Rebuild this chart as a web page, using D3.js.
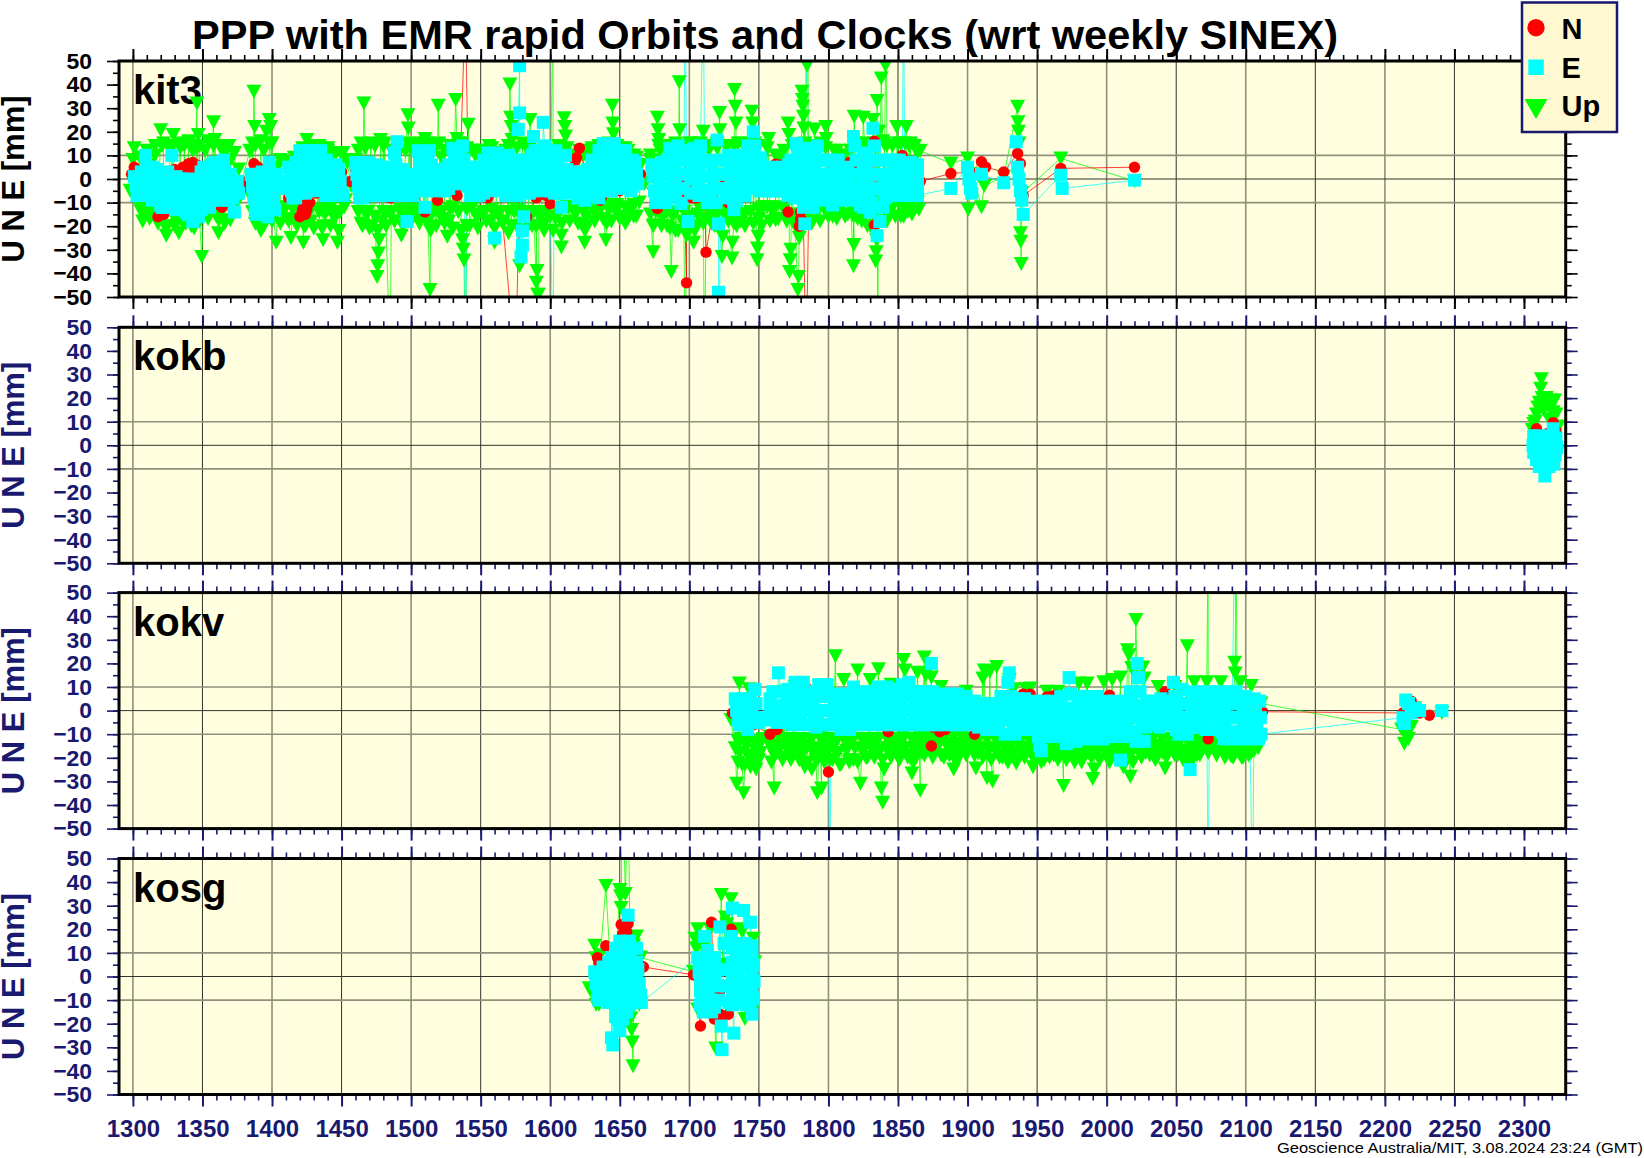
<!DOCTYPE html>
<html><head><meta charset="utf-8">
<script src="https://cdn.jsdelivr.net/npm/d3@7/dist/d3.min.js"></script>
<style>html,body{margin:0;padding:0;background:#fff}svg{display:block}text{font-family:"Liberation Sans",Arial,sans-serif}</style>
</head><body><svg id="c" width="1644" height="1158"></svg>
<script>
const titleText="PPP with EMR rapid Orbits and Clocks (wrt weekly SINEX)";
const footerText="Geoscience Australia/MIT, 3.08.2024 23:24 (GMT)";
const yAxisTitle="U N E [mm]";
const stations=["kit3","kokb","kokv","kosg"];
const legendLabels=["N","E","Up"];
const xMajorTicks=[1300,1350,1400,1450,1500,1550,1600,1650,1700,1750,1800,1850,1900,1950,2000,2050,2100,2150,2200,2250,2300];
const yMajorTicks=[-50,-40,-30,-20,-10,0,10,20,30,40,50];

// kit3
const kit3North=[[1299,2],[1301,5],[1303,0],[1318,-16],[1322,-15],[1330,4],[1336,5],[1340,6.5],[1343,7],[1346,6],[1348,3],[1356,-9],[1361,-10.5],[1364,-12],[1372,-3],[1378,-4],[1382,-1],[1387,6.5],[1390,5],[1400,2],[1412,-8],[1422,-13],[1424,-15],[1427,-10],[1432,-6],[1440,-4],[1450,3],[1456,-1],[1460,4],[1470,5],[1485,-8],[1500,1],[1510,-14],[1519,-9],[1530,2],[1532,-4],[1533,-7],[1535,-1],[1539,75],[1541,3],[1555,-8],[1560,7],[1562,8],[1575,-80],[1578,-4],[1583,-16],[1590,-8],[1597,-7],[1600,-10.5],[1612,-4],[1618,8],[1621,13],[1628,-3],[1635,-2],[1637,-7.5],[1640,-4],[1650,-5],[1659,-4.7],[1665,2],[1677,-12.5],[1680,-5],[1689,-3],[1692,-6],[1698,-44],[1701,-3],[1705,-8],[1711,-7.5],[1712,-31],[1718,-10],[1724,-3],[1728,-10],[1742,-4],[1762,6.3],[1766,6],[1771,-14],[1779,-20],[1782,-18],[1784,-80],[1786,-5],[1803,-6],[1815,7],[1820,5],[1825,4],[1833,16],[1833,-19.6],[1835,2],[1845,8],[1853,10],[1860,3],[1866,-1],[1888,2.3],[1902,3],[1910,7.3],[1913,5],[1926,3],[1936,10.8],[1938,6.6],[1940,-7],[1967,4.5],[2020,5]];
const kit3NorthMore=[[1338,3],[1341,2],[1344,3],[1342,5],[1358,-11],[1420,-16],[1423,-11],[1425,-13],[1534,-3],[1533,-1],[1632,-5],[1634,-8],[1636,-9],[1638,-6],[1640,-2],[1696,0],[1698,-3],[1699,-6],[1700,-2],[1702,-8],[1619,9],[1557,-6],[1780,-17],[1780,-14],[1827,9],[1830,7],[1819,8]];
const kit3East=[[1301,1],[1302,-3],[1303,-7],[1309,10],[1310,5],[1311,0],[1312,-5],[1317,4],[1318,-1],[1319,-6],[1320,-11],[1321,-12],[1325,3],[1326,-2],[1327,-7],[1328,10],[1329,-12],[1335,0],[1336,-5],[1337,-10],[1338,-14],[1343,-18],[1344,-2],[1345,-7],[1346,-12],[1347,-16],[1351,5],[1352,0],[1353,-5],[1354,-10],[1355,-12],[1359,7],[1360,2],[1361,-3],[1362,-8],[1365,8],[1366,3],[1367,-2],[1368,-7],[1369,-9],[1370,2],[1371,-3],[1372,-8],[1373,-14],[1375,-1],[1376,-6],
[1385,2],[1386,-3],[1387,-8],[1388,-13],[1389,-15],[1393,3],[1394,-2],[1395,-7],[1396,-12],[1397,-16],[1398,7],[1399,2],[1400,-3],[1401,-8],[1402,-13],[1405,-1],[1407,-3],[1412,5],[1413,0],[1414,-5],[1415,-8],[1420,12],[1421,7],[1422,2],[1423,-3],[1424,-6],[1428,12],[1429,7],[1430,2],[1431,-3],[1432,-5],[1435,12],[1436,6],[1437,0],[1441,6],[1442,1],[1443,-4],[1444,-7],[1448,4],[1449,-1],[1450,-6],[1451,-7],
[1460,7],[1461,2],[1462,-3],[1463,-8],[1469,7],[1470,2],[1471,-3],[1472,-7],[1478,5],[1479,0],[1480,-5],[1481,-7],[1488,11],[1489,6],[1490,15.8],[1491,1],[1492,-4],[1493,-7],[1496,2],[1497,-18],[1498,-3],[1499,-7],[1505,12],[1506,7],[1507,2],[1508,-3],[1509,-5],[1510,-12],[1513,12],[1514,6],[1515,1],[1516,-4],[1522,4],[1523,-1],[1524,-5],[1530,13],[1531,8],[1532,3],[1533,-2],[1537,14],[1538,8],[1539,-80],[1540,2],[1541,-3],[1546,5],[1547,0],[1548,-5],[1549,-7],[1555,11],[1556,6],[1557,1],[1558,-4],[1560,-25],[1562,11],[1563,6],[1564,1],[1565,-4],[1570,10],[1571,5],[1572,0],[1573,-5],[1574,-7],[1577,21],[1578,48],[1578,28],[1579,-33],[1580,-28],[1580,-22],[1581,-16],[1582,8],[1583,3],[1584,-2],[1585,-6],[1588,18],[1589,12],[1590,7],[1591,2],[1592,-4],[1595,24],[1596,14],[1597,9],[1598,3],[1599,-3],[1600,-5],[1602,-80],[1604,12],[1605,6],[1606,0],[1607,-6],[1608,-12],[1609,-5],[1611,10],[1612,4],[1613,-2],[1618,2],[1619,-3],[1620,-8],[1623,3],[1624,-3],[1625,-9],
[1630,8],[1631,3],[1632,-2],[1633,-7],[1638,15],[1639,10],[1640,5],[1641,0],[1642,-5],[1646,15],[1647,10],[1648,5],[1649,0],[1650,-4],[1654,12],[1655,7],[1656,2],[1657,-2],[1658,-5],[1661,7],[1662,2],[1663,-2],
[1673,6],[1674,1],[1675,-5],[1676,-10],[1680,7],[1681,2],[1682,-4],[1683,-10],[1686,13],[1687,8],[1688,3],[1689,-3],[1692,14],[1693,8],[1694,-10.4],[1695,2],[1696,-4],[1697,80],[1698,9],[1699,-18],[1700,3],[1703,13],[1704,7],[1705,1],[1706,-4],[1708,14],[1710,80],[1711,7],[1712,-6],[1713,-10],[1716,8],[1717,2],[1718,-4],[1719,-10],[1720,16.5],[1721,-19],[1721,-48],[1721,-80],[1723,8],[1724,2],[1725,-4],[1728,10],[1729,4],[1730,-2],[1731,-8],[1732,-13],[1735,10],[1736,4],[1737,-2],[1738,-7],[1742,14],[1743,8],[1744,2],[1745,-4],[1746,20],[1747,14],[1748,8],[1749,2],[1750,-4],[1753,5],[1754,0],[1755,-5],[1760,5],[1761,0],[1762,-5],[1767,5],[1768,0],[1769,-5],
[1773,8],[1774,2],[1775,-4],[1776,-8],[1777,15],[1778,10],[1779,4],[1780,-2],[1781,-8],[1783,-19],[1784,80],[1785,13],[1786,8],[1787,2],[1788,-4],[1789,-12],[1792,14],[1793,8],[1794,2],[1795,-4],[1796,-8],[1800,8],[1801,2],[1802,-3],[1803,-11],[1807,8],[1808,2],[1809,-4],[1810,-9],[1814,4],[1815,0],[1816,-5],[1817,-9],[1818,18],[1819,14],[1820,8],[1821,2],[1822,-4],[1823,-11],[1826,11],[1827,5],[1828,-1],[1829,-7],[1830,-14],[1832,21.5],[1833,14],[1834,8],[1835,-24],[1836,2],[1837,-18],[1838,-4],[1839,-12],[1843,8],[1844,2],[1845,-3],[1846,-7],[1851,8],[1852,3],[1853,-2],[1854,80],[1855,-6],[1859,7],[1860,2],[1861,-3],[1862,-7],
[1888,-4],[1900,5],[1901,0],[1902,-4],[1903,-6],[1910,2],[1926,-1.6],[1935,15.8],[1936,5],[1937,0],[1938,-5],[1939,-9],[1940,-15],[1967,1.6],[1968,-4],[2020,-0.5]];
const kit3EastMore=[[1306,3],[1306,-2],[1306,-7],[1314,5],[1314,0],[1314,-5],[1314,-9],[1322,2],[1322,-3],[1322,-8],[1322,-12],[1331,1],[1331,-4],[1331,-9],[1331,-13],[1340,0],[1340,-5],[1340,-10],[1340,-15],[1349,3],[1349,-2],[1349,-8],[1349,-13],[1357,6],[1357,1],[1357,-4],[1357,-9],[1363,5],[1363,0],[1363,-5],[1363,-9],[1391,2],[1391,-3],[1391,-8],[1391,-13],[1403,2],[1403,-2],[1403,-4],[1409,-1],[1409,-4],[1417,7],[1417,2],[1417,-3],[1417,-8],[1426,12],[1426,7],[1426,2],[1426,-3],[1433,10],[1433,4],[1433,-1],[1439,8],[1439,3],[1439,-2],[1439,-7],[1446,6],[1446,1],[1446,-4],[1446,-7],
[1465,6],[1465,1],[1465,-4],[1465,-8],[1475,6],[1475,1],[1475,-4],[1475,-7],[1484,5],[1484,0],[1484,-5],[1484,-7],[1494,4],[1494,-1],[1494,-6],[1501,2],[1501,-3],[1501,-7],[1511,10],[1511,4],[1511,-1],[1511,-5],[1519,4],[1519,-1],[1519,-5],[1527,6],[1527,1],[1527,-4],[1535,12],[1535,7],[1535,2],[1535,-2],[1543,5],[1543,0],[1543,-5],[1543,-7],[1552,8],[1552,3],[1552,-2],[1552,-6],[1559,9],[1559,4],[1559,-1],[1559,-5],[1568,8],[1568,3],[1568,-2],[1568,-7],[1576,8],[1576,3],[1576,-2],[1576,-7],[1587,10],[1587,4],[1587,-1],[1587,-5],[1594,12],[1594,6],[1594,0],[1594,-5],[1603,10],[1603,4],[1603,-2],[1603,-6],[1615,3],[1615,-2],[1615,-6],[1627,4],[1627,-2],[1627,-7],[1635,12],[1635,7],[1635,2],[1635,-3],[1635,-8],[1644,14],[1644,9],[1644,4],[1644,-1],[1644,-5],[1652,12],[1652,7],[1652,2],[1652,-2],[1659,8],[1659,3],[1659,-1],[1659,-3],
[1678,6],[1678,1],[1678,-4],[1678,-9],[1684,8],[1684,2],[1684,-4],[1684,-9],[1690,10],[1690,4],[1690,-2],[1690,-7],[1701,12],[1701,6],[1701,0],[1701,-6],[1707,10],[1707,4],[1707,-2],[1707,-7],[1715,7],[1715,1],[1715,-5],[1715,-10],[1727,8],[1727,2],[1727,-4],[1727,-8],[1734,8],[1734,2],[1734,-4],[1734,-9],[1740,10],[1740,4],[1740,-2],[1740,-7],[1751,9],[1751,4],[1751,-1],[1751,-5],[1758,4],[1758,-1],[1758,-5],[1765,4],[1765,-1],[1765,-5],[1771,6],[1771,1],[1771,-4],[1771,-7],[1782,12],[1782,6],[1782,0],[1782,-6],[1782,-12],[1790,10],[1790,4],[1790,-2],[1790,-8],[1798,8],[1798,2],[1798,-3],[1798,-9],[1805,6],[1805,1],[1805,-4],[1805,-8],[1812,5],[1812,0],[1812,-5],[1812,-8],[1825,10],[1825,4],[1825,-2],[1825,-8],[1825,-12],[1831,8],[1831,2],[1831,-4],[1831,-10],[1841,8],[1841,2],[1841,-3],[1841,-8],[1848,8],[1848,3],[1848,-2],[1848,-7],[1857,7],[1857,2],[1857,-3],[1857,-7],[1864,6],[1864,1],[1864,-4],[1864,-7]];
const kit3Up=[[1298,-5],[1300,8],[1301,13],[1303,-10],[1305,9],[1306,-14],[1307,-18],[1309,-13],[1312,6],[1314,-15],[1316,10],[1318,-17],[1320,20.7],[1321,14],[1323,-20],[1324,-24],[1327,12],[1329,18.6],[1331,-18],[1333,-23],[1334,15],[1337,14],[1338,-19],[1340,15],[1342,-16],[1343,12],[1344,-21],[1346,32],[1347,18.6],[1348,14],[1349.5,-33],[1351,-12],[1354,16],[1355,-11],[1358,24],[1359,16.5],[1360,-13],[1361.5,-23],[1362,-17.5],[1365,14],[1367,12],[1369,14],[1370,-17.5],[1371,-12],[1373,11],[1375,-10],[1376,4],[1378,-2],
[1384,12],[1385,-8],[1387,37],[1387.5,22],[1388,14],[1389,-13],[1392,-22],[1393,-17],[1394,12],[1396,20],[1398,25],[1399,22],[1400,15],[1401,-16],[1403,-27],[1404,-13],[1406,8],[1408,-14],[1410,6.6],[1411,-17],[1413.6,-25],[1415,-13],[1417,6],[1418,-17],[1420,8],[1422.5,-27],[1423,-20],[1425,16.5],[1426,-12],[1428,-18],[1431,13],[1433,-13],[1435,13],[1436.7,-26],[1437,-20],[1438,-15],[1440,12],[1442,-12],[1444,11],[1445,-17],[1447,-27],[1448,-22],[1449,-14],[1451,11],[1453,-9],[1454,7],[1457,-3],
[1460,8],[1462,-14],[1464,15],[1465,-20],[1466,32],[1467,13],[1469,-14],[1471,15],[1472,-20],[1474,14],[1475.5,-41.5],[1476,-37],[1476.5,-31.6],[1477,-26],[1478,16.5],[1479,-18],[1481,15],[1482,-14],[1485,-80],[1486,12],[1488,-18],[1490,10],[1493,-24],[1494,-16],[1496,12],[1497.7,27],[1498,21.4],[1499,14],[1501,-14],[1503,10],[1505,-17],[1507,15],[1509,-13],[1510,17],[1511,-18],[1512,15],[1513.6,-47],[1514,-22],[1516,14],[1517,-13],[1519.5,31],[1520,15],[1522,-17],[1524,12],[1526,-24.5],[1527,-18],[1529,14],[1530,-12],[1532,33.5],[1533,17],[1534,-14],[1536,15],[1537,-26],[1537.5,-30],[1538,-34.5],[1539,-80],[1540,-20],[1541,23],[1542,12],[1544,-12],[1546,10],[1548,-16],[1551,12],[1553,-14],[1556,14],[1557,-18],[1560,-27],[1561,-14],[1563,11],[1565,-18],[1568,12],[1570,-23],[1571,40],[1571.5,26],[1572,22],[1572.5,16.5],[1574,-14],[1576,-20],[1578,-37],[1580,15],[1582,-14],[1585.5,25],[1586,14],[1587,-20],[1590,-44],[1590.5,-39],[1591,-49],[1591.5,-49],[1592,-16],[1594,12],[1595.6,-22],[1597,-14],[1600,10],[1602,80],[1604,-17],[1606,14],[1608,-29],[1608.5,-19],[1610,25.7],[1610.5,22],[1611,18],[1613,-12],[1616,8],[1618,-15],[1621,12],[1623,-13],[1624.7,-27],[1625,-22],[1626,-16],[1629,12],
[1632,-14],[1635,14],[1637,-12],[1640,-26],[1640.5,-19],[1642,-13],[1644.7,31],[1645,23.5],[1645.5,19],[1647,-14],[1650,13],[1652,-16],[1654,-19],[1656,12],[1658,-13],[1660,-16],[1662,9],[1664,-10],[1665,6],[1668,-2],
[1672,8],[1674,-31],[1674.5,-19.6],[1676,-14],[1677,26],[1677.5,20.7],[1678,16.5],[1679,12],[1681,-16],[1684,-20],[1687,-39.4],[1688,-16],[1690,-22],[1692.7,41],[1693,20.7],[1695,-18],[1697,-80],[1698,-24],[1700,15],[1703,-27],[1704,-20],[1706,-15],[1708,15],[1710,20],[1711,-80],[1712,-17],[1714,12],[1716,-15],[1718,-20],[1720,15],[1721.7,28],[1722,20.7],[1723.5,-33],[1724,-24.5],[1725,-15],[1727,13],[1730.7,-33.7],[1731,-27],[1732,-19],[1732.5,37.7],[1733,30.6],[1733.5,23.5],[1735,15],[1737,-18],[1740,-15],[1742,13],[1745,28.5],[1745.5,23.5],[1747,15],[1748.7,-34.4],[1749,-29.5],[1749.5,-24.5],[1750,-17],[1753,-12],[1757,17],[1759,-13],[1762,-17.5],[1765,8],[1768,-13],[1771,23.5],[1771.5,18.6],[1772,-39.4],[1772.5,-34.4],[1773,-30],[1775,-16],[1778,-47],[1778.5,-41.5],[1779,-25],[1781,37],[1781.3,33.5],[1781.6,30.6],[1782,26.4],[1782.4,21.4],[1783,15],[1784.6,48],[1785,80],[1786,-16],[1790,21],[1792,-14],[1795,15],[1798,22],[1798.4,17],[1800,-13],[1803,-16],[1806,12],[1809,-12],[1812,10],[1814,-15],[1816,12],[1818,-37],[1818.3,-28],[1818.5,26.4],[1819,15],[1821,-17],[1825,26],[1826,15],[1828,-20],[1830,-14],[1832,25],[1833,15],[1834,-35],[1834.3,-31],[1834.6,-26],[1835,33],[1835.5,-80],[1836,20],[1838,42.6],[1839,16],[1841,48],[1841.5,80],[1842,14],[1844,-14],[1846,14],[1849,22],[1850,15],[1852,-16],[1855,15],[1856,22],[1857,-14],[1859,15],[1862,14],[1863,-12],[1866,12],
[1888,6.6],[1900,8.7],[1900.5,-13],[1904,2],[1910,-12],[1912,-3],[1926,1],[1936,30.6],[1936.3,24],[1936.6,20],[1937,15],[1938,-23],[1938.3,-26.6],[1938.6,-36],[1939,-6],[1967,8.7],[2020,-0.8]];
const kit3UpMore=[[1310,12],[1310,-13],[1312,-17],[1316,14],[1316,-14],[1318,-19],[1322,15],[1322,-15],[1324,-21],[1328,14],[1328,-14],[1330,-20],[1334,13],[1334,-13],[1336,-19],[1340,16],[1340,-15],[1342,-20],[1346,13],[1346,-13],[1348,-18],[1352,12],[1352,-12],[1354,-17],[1358,14],[1358,-12],[1360,-16],[1364,12],[1364,-13],[1366,-19],[1370,8],[1370,-13],
[1386,15],[1386,-14],[1388,-19],[1392,16],[1392,-15],[1394,-20],[1398,15],[1398,-14],[1400,-18],[1404,5],[1404,-13],[1406,-19],[1410,7],[1410,-12],[1412,-18],[1416,9],[1416,-11],[1418,-20],[1422,13],[1422,-13],[1424,-20],[1428,14],[1428,-13],[1430,-21],[1434,14],[1434,-14],[1436,-21],[1440,13],[1440,-13],[1442,-20],[1446,11],[1446,-14],[1448,-22],[1452,8],[1452,-12],
[1462,12],[1462,-14],[1464,-19],[1468,14],[1468,-15],[1470,-21],[1474,14],[1474,-16],[1476,-22],[1480,14],[1480,-14],[1482,-20],[1486,12],[1486,-14],[1488,-18],[1492,12],[1492,-13],[1494,-20],[1498,15],[1498,-13],[1500,-18],[1504,14],[1504,-13],[1506,-19],[1510,15],[1510,-13],[1512,-18],[1516,12],[1516,-14],[1518,-20],[1522,9],[1522,-14],[1524,-19],[1528,14],[1528,-13],[1530,-21],[1534,15],[1534,-14],[1536,-22],[1540,13],[1540,-13],[1542,-20],[1546,12],[1546,-15],[1548,-21],[1552,12],[1552,-14],[1554,-18],[1558,13],[1558,-13],[1560,-21],[1564,11],[1564,-14],[1566,-19],[1570,14],[1570,-14],[1572,-20],[1576,13],[1576,-13],[1578,-22],[1582,14],[1582,-15],[1584,-20],[1588,12],[1588,-14],[1590,-20],[1594,11],[1594,-15],[1596,-19],[1600,12],[1600,-16],[1602,-22],[1606,12],[1606,-14],[1608,-24],[1612,13],[1612,-12],[1614,-18],[1618,10],[1618,-14],[1620,-19],[1624,10],[1624,-14],[1626,-20],[1630,13],[1630,-12],[1632,-18],[1636,13],[1636,-12],[1638,-17],[1642,15],[1642,-11],[1644,-18],[1648,14],[1648,-11],[1650,-17],[1654,13],[1654,-12],[1656,-17],[1660,10],[1660,-11],[1662,-16],
[1672,10],[1672,-15],[1674,-20],[1678,14],[1678,-14],[1680,-20],[1684,14],[1684,-14],[1686,-21],[1690,15],[1690,-14],[1692,-22],[1696,14],[1696,-14],[1698,-20],[1702,15],[1702,-16],[1704,-22],[1708,13],[1708,-13],[1710,-19],[1714,14],[1714,-14],[1716,-19],[1720,13],[1720,-15],[1722,-20],[1726,14],[1726,-13],[1728,-18],[1732,14],[1732,-15],[1734,-20],[1738,15],[1738,-15],[1740,-20],[1744,13],[1744,-14],[1746,-19],[1750,14],[1750,-13],[1752,-20],[1756,13],[1756,-12],[1758,-18],[1762,10],[1762,-12],[1764,-17],[1768,12],[1768,-13],[1770,-18],[1774,14],[1774,-15],[1776,-20],[1780,14],[1780,-15],[1782,-20],[1786,14],[1786,-13],[1788,-19],[1792,12],[1792,-13],[1794,-18],[1798,13],[1798,-13],[1800,-16],[1804,12],[1804,-12],[1806,-17],[1810,10],[1810,-11],[1812,-16],[1816,12],[1816,-12],[1818,-16],[1822,14],[1822,-12],[1824,-18],[1828,14],[1828,-13],[1830,-20],[1834,14],[1834,-14],[1836,-19],[1840,15],[1840,-13],[1842,-18],[1846,14],[1846,-12],[1848,-16],[1852,15],[1852,-12],[1854,-16],[1858,14],[1858,-11],[1860,-15],[1864,11],[1864,-10],[1865,-13]];

// kokb
const kokbNorth=[[2309,7],[2312,3],[2317,5],[2321,9.6],[2323,6]];
const kokbNorthMore=[[2308,5],[2322,7]];
const kokbEast=[[2307,4],[2308,-1],[2309,-6],[2310,4],[2311,-9],[2312,-3],[2313,3],[2314,-8],[2315,-13],[2316,-2],[2317,4],[2318,-9],[2319,-4],[2320,1],[2321,7],[2321.5,-8],[2322,3],[2322.5,-4],[2323,3],[2323.5,-1]];
const kokbEastMore=[[2306.5,0],[2307,-3],[2313,-5],[2317,-3],[2320,-6]];
const kokbUp=[[2306,6.5],[2309,13],[2311,18],[2312,24],[2312.5,28],[2314,15],[2316,20],[2318,11],[2320,19],[2321,14],[2322,19],[2323,13],[2324,-3.4],[2324.5,8]];
const kokbUpMore=[[2308,10],[2310,16],[2313,20],[2315,17],[2317,17],[2319,16],[2323,6],[2307,9]];

// kokv
const kokvNorth=[[1731,-1],[1740,-5],[1746,-6],[1758,-10],[1770,-5],[1784,9.7],[1788,5],[1800,-26],[1810,-4],[1826,-3],[1842,-6],[1850,-3],[1874,-15],[1876,-7],[1880,-7],[1905,-10],[1920,-5],[1940,7],[1957,5.8],[1960,5],[2002,6.5],[2020,3],[2042,8],[2060,-4],[2073,-12],[2093,-10.4],[2102,3],[2112,-0.5],[2213,-1],[2219,4],[2221,1],[2225,-1],[2232,-2],[2241,0]];
const kokvNorthMore=[[1843,-9],[1842,-7],[1945,7],[1960,6],[1963,6.5],[1965,6],[1880,-9],[1884,-8],[1763,-8]];
const kokvEast=[[1733,5],[1734,0],[1735,-4],[1736,-6],[1739,5],[1740,0],[1741,-5],[1742,-8],[1744,5],[1745,0],[1746,-5],[1747,9],[1748,3],[1749,-3],[1750,-5],
[1760,8],[1761,2],[1762,-3],[1763,-5],[1764,16],[1766,8],[1767,2],[1768,-3],[1769,-5],[1771,9],[1772,3],[1773,-2],[1774,-6],[1776,12],[1777,6],[1778,0],[1779,-6],[1782,12],[1783,6],[1784,0],[1785,-6],[1788,8],[1789,2],[1790,-3],[1791,-7],[1793,11],[1794,6],[1795,0],[1796,-6],[1799,11],[1800,6],[1801,-80],[1802,0],[1803,-6],[1806,7],[1807,2],[1808,-3],[1809,-8],[1812,7],[1813,2],[1814,-3],[1815,-8],[1818,10],[1819,5],[1820,0],[1821,-6],[1824,8],[1825,3],[1826,-2],[1827,-6],[1830,8],[1831,3],[1832,-2],[1833,-6],[1836,10],[1837,5],[1838,0],[1839,-6],[1842,10],[1843,5],[1844,0],[1845,-6],[1847,9],[1848,3],[1849,-2],[1850,-6],[1853,11],[1854,6],[1855,0],[1856,-6],[1858,12],[1859,6],[1860,0],[1861,-6],[1864,8],[1865,3],[1866,-2],[1867,-6],[1870,8],[1871,3],[1872,-2],[1873,-6],[1874,20],[1875,8],[1876,3],[1877,-2],[1878,-6],
[1881,7],[1882,2],[1883,-3],[1884,-6],[1887,7],[1888,2],[1889,-3],[1890,-6],[1893,7],[1894,2],[1895,-3],[1896,-6],[1899,6],[1900,1],[1901,-3],[1902,-6],[1905,4],[1906,0],[1907,-4],[1908,-7],[1911,3],[1912,-1],[1913,-5],[1914,-8],[1917,3],[1918,-1],[1919,-5],[1920,-8],[1924,6],[1925,1],[1926,-4],[1927,-10],[1929,12],[1930,16],[1931,6],[1932,0],[1933,-6],[1934,-10],[1936,5],[1937,0],[1938,-4],[1939,-8],[1941,5],[1942,0],[1943,-4],[1944,-8],[1948,4],[1949,-1],[1950,-6],[1951,-11],[1952,-15],[1953,-17],[1955,4],[1956,-1],[1957,-6],[1958,-11],[1961,4],[1962,-1],[1963,-6],[1964,-11],[1967,6],[1968,1],[1969,-4],[1970,-9],[1971,-14],[1973,14],[1974,7],[1975,1],[1976,-4],[1977,-9],[1978,-13],[1981,6],[1982,1],[1983,-4],[1984,-9],[1985,-12],[1987,6],[1988,1],[1989,-4],[1990,-9],[1991,-12],[1993,6],[1994,1],[1995,-4],[1996,-9],[1997,-12],
[2000,4],[2001,-1],[2002,-6],[2003,-11],[2006,4],[2007,-1],[2008,-6],[2009,-11],[2010,-21],[2012,4],[2013,-1],[2014,-6],[2015,-11],[2017,8],[2018,3],[2019,-3],[2020,-9],[2021,-13],[2022,20],[2023,14],[2024,8],[2025,2],[2026,-4],[2027,-13],[2029,4],[2030,-1],[2031,-6],[2034,4],[2035,-1],[2036,-6],[2039,5],[2040,0],[2041,-6],[2044,4],[2045,-1],[2046,-6],[2048,12],[2049,6],[2050,0],[2051,-6],[2052,-10],[2054,9],[2055,3],[2056,-3],[2057,-8],[2058,-10],[2060,-25],[2062,8],[2063,3],[2064,-2],[2065,-7],[2068,8],[2069,3],[2070,-2],[2071,-8],[2073,-80],[2074,8],[2075,3],[2076,-2],[2077,-8],[2080,8],[2081,3],[2082,-3],[2083,-9],[2084,-12],[2086,8],[2087,3],[2088,-3],[2089,-9],[2090,-12],[2092,80],[2093,8],[2094,3],[2095,-3],[2096,-9],[2097,-12],[2100,6],[2101,0],[2102,-6],[2103,-12],[2105,-80],[2106,5],[2107,0],[2108,-6],[2109,-12],[2110,4],[2110.5,-3],[2111,-10],
[2213,-3],[2214,-5.5],[2215,4.5],[2217,3],[2219,-1],[2222,1],[2225,0],[2241,0]];
const kokvEastMore=[[1737,2],[1737,-2],[1743,3],[1743,-3],[1758,5],[1758,0],[1758,-4],[1770,5],[1770,0],[1770,-4],[1780,9],[1780,3],[1780,-3],[1792,6],[1792,0],[1792,-4],[1804,5],[1804,0],[1804,-5],[1816,5],[1816,0],[1816,-5],[1828,5],[1828,0],[1828,-4],[1840,7],[1840,2],[1840,-4],[1852,7],[1852,2],[1852,-3],[1862,8],[1862,3],[1862,-3],[1874,5],[1874,0],[1874,-4],[1886,4],[1886,0],[1886,-4],[1898,4],[1898,0],[1898,-4],[1910,2],[1910,-2],[1910,-6],[1922,3],[1922,-2],[1922,-6],[1935,3],[1935,-2],[1935,-7],[1946,2],[1946,-3],[1946,-8],[1959,2],[1959,-3],[1959,-9],[1966,3],[1966,-2],[1966,-7],[1980,3],[1980,-2],[1980,-7],[1992,3],[1992,-2],[1992,-7],[2004,2],[2004,-3],[2004,-9],[2016,2],[2016,-3],[2016,-9],[2028,2],[2028,-3],[2028,-7],[2038,2],[2038,-3],[2038,-7],[2050,4],[2050,-2],[2050,-8],[2061,5],[2061,0],[2061,-5],[2072,5],[2072,0],[2072,-5],[2085,5],[2085,0],[2085,-6],[2098,4],[2098,-2],[2098,-8],[2107,3],[2107,-2],[2107,-8]];
const kokvUp=[[1730,-4],[1733,-16],[1734,-31],[1735,-22],[1736,11.5],[1737,-12],[1739,-35],[1740,-23],[1741,-15],[1743,9],[1745,-20],[1748,-25],[1749,-15],[1751,-18],[1753,-12],
[1757,-14],[1759,-22],[1761,-33],[1762,-16],[1765,-15],[1767,-20],[1769,8],[1771,-14],[1773,-18],[1776,10],[1778,-14],[1780,-17],[1783,-24],[1785,-15],[1788,-25],[1789,-18],[1792,-35],[1793,-20],[1795,-33],[1796,-14],[1799,-17],[1801,-21],[1803,-14],[1805,23],[1806,-18],[1808,-23],[1811,13],[1813,-14],[1815,-22],[1818,-21],[1821,17],[1823,-31],[1824,-17],[1826,-14],[1828,-20],[1830,13],[1832,-13],[1834,-17],[1836,17.5],[1838,-33],[1839,-39],[1840,-25],[1842,-16],[1845,11],[1847,-13],[1850,-19.5],[1852,-14],[1854,21.4],[1855,17],[1857,-20],[1860,-26.6],[1861,-22],[1863,-14],[1864,16],[1866,-34],[1867,-18],[1869,22.5],[1870,15],[1872,-14],[1874,14],[1876,-17],[1878,-12],
[1881,10],[1883,-20],[1885,-14],[1888,-16],[1890,-25],[1892,-22],[1894,-14],[1896,-17],[1899,8],[1901,-14],[1904,-14],[1906,-24.5],[1908,-18],[1911,13.6],[1912,17],[1914,-28.7],[1916,16.5],[1918,-30],[1919,-16],[1921,18.5],[1922,-14],[1925,-20],[1928,-16],[1930,13],[1931,-19],[1933,9],[1935,-22.4],[1937,-14],[1940,-18],[1942,9],[1944,-16],[1945,9.4],[1947,-24],[1949,-19],[1952,-14],[1955,-21],[1957,8],[1959,-16],[1962,-19],[1965,8],[1967,-15],[1969,-32],[1971,-16],[1973,-19],[1975,-14],[1978,-17],[1980,11.5],[1982,-22],[1984,-16],[1986,11.5],[1988,-16],[1990,-29],[1991,-25],[1993,-15],[1996,-13],[1998,12],[2000,-17],[2002,-22],[2004,13],[2006,-16],[2008,-21],[2010,14],[2012,-24],[2014,-17],[2015,25.6],[2016,23.5],[2017,-28],[2018,18],[2019,-16],[2021,38.4],[2022,14],[2024,-15],[2026,18.3],[2027,13.6],[2028,-18],[2030,-14],[2033,-16],[2035,-21],[2037,10],[2040,-18],[2042,-24.5],[2044,-16],[2047,-13],[2049,10],[2051,-19],[2054,-17],[2056,-20],[2058,27.3],[2059,-24],[2061,-16],[2063,12],[2065,-19],[2067,-14],[2070,-13],[2072,12],[2073,80],[2074,-16],[2077,-14],[2080,-12],[2082,12],[2084,-18],[2086,-19],[2088,-15],[2090,-19.5],[2092,20.3],[2092.4,15.7],[2093,80],[2094,-15],[2096,12],[2098,-20],[2100,-16],[2104,10.4],[2106,-17],[2109,-16],[2111,3],
[2212,-8],[2214,-14],[2215,-10],[2217,-12],[2219,-7],[2221,1],[2241,-1]];
const kokvUpMore=[[1735,-13],[1736,-18],[1738,-23],[1741,-12],[1742,-19],[1744,-24],[1747,-13],[1748,-17],[1750,-21],[1758,-11],[1759,-15],[1761,-19],[1764,-11],[1765,-16],[1767,-21],[1770,-12],[1771,-17],[1773,-21],[1776,-12],[1777,-16],[1779,-21],[1782,-12],[1783,-17],[1785,-22],[1788,-12],[1789,-16],[1791,-21],[1794,-11],[1795,-17],[1797,-22],[1800,-12],[1801,-16],[1803,-21],[1806,-13],[1807,-18],[1809,-23],[1812,-13],[1813,-17],[1815,-21],[1818,-12],[1819,-16],[1821,-22],[1824,-12],[1825,-17],[1827,-20],[1830,-12],[1831,-16],[1833,-20],[1836,-12],[1837,-17],[1839,-21],[1842,-12],[1843,-16],[1845,-20],[1848,-12],[1849,-17],[1851,-21],[1854,-11],[1855,-16],[1857,-19],[1860,-12],[1861,-16],[1863,-20],[1866,-11],[1867,-15],[1869,-19],[1872,-11],[1873,-16],[1875,-20],[1878,-11],[1879,-15],[1881,-19],[1884,-11],[1885,-15],[1887,-19],[1890,-11],[1891,-16],[1893,-20],[1896,-11],[1897,-15],[1899,-19],[1902,-12],[1903,-16],[1905,-19],[1908,-12],[1909,-16],[1911,-20],[1914,-12],[1915,-17],[1917,-21],[1920,-12],[1921,-16],[1923,-20],[1926,-15],[1927,-19],[1929,-22],[1932,-14],[1933,-18],[1935,-21],[1938,-12],[1939,-17],[1941,-20],[1944,-12],[1945,-16],[1947,-20],[1950,-15],[1951,-19],[1953,-22],[1956,-13],[1957,-17],[1959,-20],[1962,-14],[1963,-18],[1965,-21],[1968,-14],[1969,-18],[1971,-21],[1974,-15],[1975,-19],[1977,-22],[1980,-15],[1981,-19],[1983,-20],[1986,-14],[1987,-18],[1989,-20],[1992,-14],[1993,-18],[1995,-21],[1998,-14],[1999,-18],[2001,-20],[2004,-13],[2005,-17],[2007,-20],[2010,-14],[2011,-18],[2013,-20],[2016,-15],[2017,-19],[2019,-22],[2022,-14],[2023,-17],[2025,-20],[2028,-11],[2029,-15],[2031,-19],[2034,-11],[2035,-15],[2037,-19],[2040,-12],[2041,-16],[2043,-20],[2046,-12],[2047,-15],[2049,-19],[2052,-14],[2053,-18],[2055,-21],[2058,-13],[2059,-17],[2061,-21],[2064,-13],[2065,-16],[2067,-19],[2070,-12],[2071,-16],[2073,-18],[2076,-12],[2077,-16],[2079,-19],[2082,-14],[2083,-17],[2085,-20],[2088,-16],[2089,-19],[2091,-20],[2094,-16],[2095,-18],[2097,-20],[2100,-17],[2102,-19],[2104,-18],[2108,-14]];

// kosg
const kosgNorth=[[1632,0],[1635,5.6],[1640,13],[1645,8],[1651,22],[1653,18],[1654,-15.6],[1656,22.5],[1661,7],[1664,5],[1667,4],[1703,0.7],[1708,-21],[1710,-3],[1716,23],[1720,-16],[1722,-6],[1723,-18],[1730,20],[1732,3],[1738,-8],[1745,10]];
const kosgNorthMore=[[1634,8],[1652,18],[1655,19],[1662,6],[1664,3],[1722,-16],[1718,-18],[1728,-16]];
const kosgEast=[[1632,2],[1633,-3],[1634,-8],[1635,-10],[1638,4],[1639,-1],[1640,-6],[1641,-10],[1644,8],[1645,2],[1646,-4],[1647,-10],[1648,-14],[1649,-18],[1650,15],[1651,9],[1652,3],[1653,-3],[1644,-26],[1645,-29],[1650,-23],[1654,-9],[1655,-15],[1656,26],[1657,15],[1658,9],[1659,3],[1660,-3],[1661,-9],[1662,12],[1663,3],[1664,-3],[1665,-8],[1665.5,-11],
[1706,8],[1707,2],[1708,-4],[1709,-10],[1710,-15],[1711,17],[1712,8],[1713,2],[1714,-4],[1715,-10],[1716,-15],[1718,8],[1719,2],[1720,-4],[1721,-10],[1722,21],[1723,-21],[1723.5,-31],[1725,14],[1726,3],[1727,-4],[1729,-11],[1730,17],[1731,29],[1732,-24],[1732.5,14],[1734,8],[1735,2],[1736,-4],[1737,-11],[1739,28],[1740,14],[1741,5],[1742,-3],[1743,-11],[1744,23],[1745,13],[1746,5],[1746.5,-2],[1746,-9],[1745,-16]];
const kosgEastMore=[[1636,0],[1636,-5],[1636,-9],[1642,6],[1642,0],[1642,-5],[1642,-11],[1647,12],[1647,6],[1647,0],[1647,-6],[1647,-12],[1647,-17],[1652,12],[1652,6],[1652,0],[1652,-6],[1652,-12],[1652,-18],[1657,12],[1657,6],[1657,0],[1657,-6],[1657,-12],[1662,6],[1662,0],[1662,-6],[1662,-11],[1708,6],[1708,0],[1708,-6],[1708,-12],[1713,11],[1713,5],[1713,-1],[1713,-7],[1713,-13],[1718,5],[1718,-1],[1718,-13],[1731,12],[1731,6],[1731,0],[1731,-6],[1731,-12],[1736,10],[1736,4],[1736,-2],[1736,-8],[1741,10],[1741,4],[1741,-2],[1741,-8],[1741,-12],[1745,8],[1745,2],[1745,-4],[1745,-10]];
const kosgUp=[[1628,-5],[1632,13],[1633,7.7],[1635,-12],[1640,38.4],[1645,-14],[1650,36.6],[1650.5,34],[1651,29],[1652,80],[1654,35],[1656,80],[1658,-17.7],[1658.5,-22.7],[1659,-28],[1659.5,-38],[1660,-10],[1662,17],[1665,8],[1703,2],[1706,20],[1708,16],[1710,12],[1718,-12.8],[1719,-30.5],[1723,34.5],[1724,5],[1726,25],[1730,32.7],[1732,-12],[1738,19],[1740,-18],[1746,16],[1747,6]];
const kosgUpMore=[[1636,9],[1631,-8],[1633,-12],[1660,13],[1664,-12],[1704,16],[1705,12],[1715,20],[1745,12],[1745,-15],[1727,22],[1734,20],[1706,-14]];

const panelTops=[61,327.3,592.6,858.5],panelH=236,L=119,R=1565.7;
const navy="#191970",RED="#ff0000",CYAN="#00ffff",GREEN="#00ff00";
const svg=d3.select("#c");
const x=d3.scaleLinear().domain([1290,2330]).range([L,R]);
const xMinor=d3.range(1300,2331,10);
const yMinor=d3.range(-50,51,5);
const tri="M-7.5,-7L7.5,-7L0,7Z";
const merged=(a,b)=>a.concat(b).sort((p,q)=>d3.ascending(p[0],q[0]));
const panelData=[
 {N:merged(kit3North,kit3NorthMore),E:merged(kit3East,kit3EastMore),U:merged(kit3Up,kit3UpMore)},
 {N:merged(kokbNorth,kokbNorthMore),E:merged(kokbEast,kokbEastMore),U:merged(kokbUp,kokbUpMore)},
 {N:merged(kokvNorth,kokvNorthMore),E:merged(kokvEast,kokvEastMore),U:merged(kokvUp,kokvUpMore)},
 {N:merged(kosgNorth,kosgNorthMore),E:merged(kosgEast,kosgEastMore),U:merged(kosgUp,kosgUpMore)}];

stations.forEach((st,i)=>{
  const top=panelTops[i],col=i===0?"#000":navy;
  const y=d3.scaleLinear().domain([-50,50]).range([top+panelH,top]);
  const g=svg.append("g");
  g.append("rect").attr("x",L).attr("y",top).attr("width",R-L).attr("height",panelH).attr("fill","#ffffdf");
  g.append("clipPath").attr("id","cp"+i).append("rect").attr("x",L).attr("y",top).attr("width",R-L).attr("height",panelH);
  xMajorTicks.filter(v=>v<2300).forEach(v=>g.append("line").attr("x1",x(v)).attr("x2",x(v)).attr("y1",top).attr("y2",top+panelH)
     .attr("stroke",v%100===0?"#8f8f7c":"#33332c").attr("stroke-width",v%100===0?1.6:1));
  [10,0,-10].forEach(v=>g.append("line").attr("x1",L).attr("x2",R).attr("y1",y(v)).attr("y2",y(v))
     .attr("stroke",v===0?"#33332c":"#8f8f7c").attr("stroke-width",v===0?1:1.6));
  g.append("text").attr("x",133).attr("y",top+43).attr("font-size",40).attr("font-weight","bold").attr("fill","#000").text(st);
  const marks=g.append("g").attr("clip-path",`url(#cp${i})`);
  const line=d3.line().x(d=>x(d[0])).y(d=>y(d[1]));
  const D=panelData[i];
  [[D.U,GREEN],[D.N,RED],[D.E,CYAN]].forEach(([a,c])=>marks.append("path").attr("d",line(a)).attr("fill","none").attr("stroke",c).attr("stroke-width",1).attr("opacity",.75));
  marks.selectAll("path.u").data(D.U).join("path").attr("class","u").attr("d",tri).attr("fill",GREEN)
     .attr("transform",d=>`translate(${x(d[0])},${y(d[1])})`);
  marks.selectAll("circle").data(D.N).join("circle").attr("cx",d=>x(d[0])).attr("cy",d=>y(d[1])).attr("r",5.7).attr("fill",RED);
  marks.selectAll("rect").data(D.E).join("rect").attr("x",d=>x(d[0])-6.5).attr("y",d=>y(d[1])-6.5).attr("width",13).attr("height",13).attr("fill",CYAN);
  const ax=(gen,tx,ty,lab)=>{const a=g.append("g").attr("transform",`translate(${tx},${ty})`).call(gen);
     a.select(".domain").remove();a.selectAll("line").attr("stroke",col).attr("stroke-width",1.6);
     if(!lab)a.selectAll("text").remove();return a;};
  ax(d3.axisTop(x).tickValues(xMinor).tickSize(6),0,top);
  ax(d3.axisBottom(x).tickValues(xMinor).tickSize(6),0,top+panelH);
  ax(d3.axisTop(x).tickValues(xMajorTicks).tickSize(12),0,top).selectAll("line").attr("stroke-width",2);
  const bot=ax(d3.axisBottom(x).tickValues(xMajorTicks).tickSize(12).tickPadding(13).tickFormat(d3.format("d")),0,top+panelH,i===3);
  bot.selectAll("line").attr("stroke-width",2);
  bot.selectAll("text").attr("font-size",24).attr("font-weight","bold").attr("fill",navy).attr("font-family","Liberation Sans");
  ax(d3.axisLeft(y).tickValues(yMinor).tickSize(6),L,0);
  const ly=ax(d3.axisLeft(y).tickValues(yMajorTicks).tickSize(12).tickPadding(12).tickFormat(d3.format("d")),L,0,true);
  ly.selectAll("text").attr("font-size",20.5).attr("font-weight","bold").attr("fill",col).attr("font-family","Liberation Sans").attr("transform","scale(1.12,1.12)").attr("dy","0.32em");
  ax(d3.axisRight(y).tickValues(yMinor).tickSize(6),R,0);
  ax(d3.axisRight(y).tickValues(yMajorTicks).tickSize(12),R,0);
  g.append("rect").attr("x",L).attr("y",top).attr("width",R-L).attr("height",panelH).attr("fill","none").attr("stroke","#000").attr("stroke-width",3);
  g.append("text").attr("transform",`translate(24,${top+panelH/2}) rotate(-90)`).attr("text-anchor","middle")
   .attr("font-size",31).attr("font-weight","bold").attr("fill",col).text(yAxisTitle);
});
svg.append("text").attr("x",192).attr("y",49).attr("font-size",41).attr("font-weight","bold").attr("fill","#000").attr("textLength",1146).attr("lengthAdjust","spacingAndGlyphs").text(titleText);
svg.append("text").attr("x",1277).attr("y",1153).attr("font-size",14.5).attr("fill","#000").attr("textLength",366).attr("lengthAdjust","spacingAndGlyphs").text(footerText);
const lg=svg.append("g");
lg.append("rect").attr("x",1522).attr("y",2.5).attr("width",95).attr("height",129.5).attr("fill","#fff8d0").attr("stroke",navy).attr("stroke-width",2.5);
lg.append("circle").attr("cx",1536).attr("cy",27.7).attr("r",8.7).attr("fill",RED);
lg.append("rect").attr("x",1528.3).attr("y",59.5).attr("width",15.5).attr("height",15.5).attr("fill",CYAN);
lg.append("path").attr("d","M1524.5,99L1547.5,99L1536,119Z").attr("fill",GREEN);
[39,78,116].forEach((b,k)=>lg.append("text").attr("x",1561.5).attr("y",b).attr("font-size",29).attr("font-weight","bold").attr("fill","#000").text(legendLabels[k]));
</script></body></html>
